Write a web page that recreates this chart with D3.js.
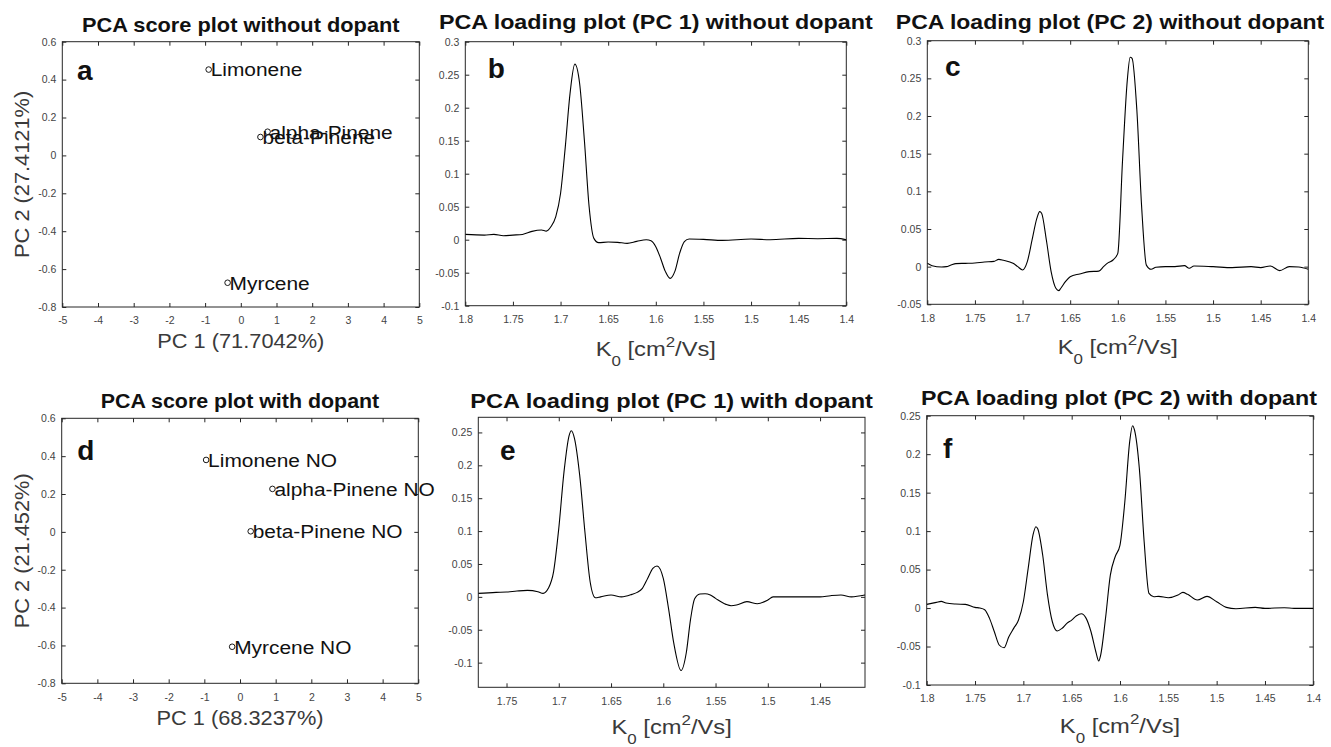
<!DOCTYPE html>
<html>
<head>
<meta charset="utf-8">
<script src="https://d3js.org/d3.v7.min.js"></script>
<style>
  body { margin: 0; background: #fff; }
  svg text { font-family: "Liberation Sans", Arial, Helvetica, sans-serif; }
  .tick text { fill: #444; font-size: 10.5px; }
  .tick line { stroke: #262626; }
</style>
</head>
<body>
<script>
// ---- score plots (PC1, PC2 per compound) ----
var namesNoDop = ["Limonene", "alpha-Pinene", "beta-Pinene", "Myrcene"];
var pc1NoDop = [-0.9, 0.75, 0.55, -0.37];
var pc2NoDop = [0.453, 0.125, 0.097, -0.672];

var namesDop = ["Limonene NO", "alpha-Pinene NO", "beta-Pinene NO", "Myrcene NO"];
var pc1Dop = [-0.95, 0.91, 0.3, -0.22];
var pc2Dop = [0.38, 0.227, 0.003, -0.607];

// ---- loading plots, [K0, loading] ----
var loadPC1NoDop = [[1.8,0.008],[1.78,0.007],[1.77,0.008],[1.76,0.006],[1.75,0.007],[1.74,0.008],[1.73,0.0126],
  [1.72,0.0146],[1.715,0.013],[1.71,0.02],[1.705,0.035],[1.7,0.07],[1.695,0.141],[1.69,0.222],[1.685,0.266],
  [1.68,0.237],[1.675,0.151],[1.67,0.05],[1.665,0.002],[1.66,-0.0045],[1.65,-0.0035],[1.64,-0.004],[1.63,-0.0055],
  [1.62,-0.0025],[1.61,0],[1.605,-0.0015],[1.6,-0.0106],[1.595,-0.028],[1.59,-0.048],[1.585,-0.0586],[1.58,-0.048],
  [1.575,-0.0207],[1.57,-0.003],[1.565,0.001],[1.55,0.0005],[1.53,-0.001],[1.5,0.001],[1.48,0],[1.45,0.002],
  [1.43,0.0015],[1.41,0.002],[1.4,0]];

var loadPC2NoDop = [[1.8,0.0044],[1.795,0.0013],[1.785,-0.0004],[1.78,0],[1.775,0.0022],[1.77,0.004],[1.76,0.0044],
  [1.75,0.0049],[1.74,0.0062],[1.73,0.007],[1.725,0.0097],[1.72,0.0084],[1.71,0.0044],[1.705,0],[1.7,-0.0044],
  [1.695,0.0066],[1.69,0.0354],[1.685,0.064],[1.682,0.073],[1.68,0.071],[1.675,0.0354],[1.67,-0.0066],
  [1.665,-0.0288],[1.662,-0.0319],[1.66,-0.029],[1.655,-0.02],[1.65,-0.0133],[1.64,-0.0097],[1.63,-0.0066],
  [1.62,-0.006],[1.615,0],[1.61,0.0053],[1.605,0.0088],[1.6,0.0177],[1.595,0.1416],[1.59,0.248],[1.587,0.278],
  [1.585,0.2765],[1.58,0.208],[1.575,0.08],[1.57,0.002],[1.565,-0.0035],[1.56,-0.0009],[1.55,0],[1.54,0],
  [1.53,0.0013],[1.525,-0.0022],[1.52,0.0009],[1.5,0],[1.48,-0.0013],[1.46,0],[1.45,-0.0013],[1.44,0.0009],
  [1.43,-0.0053],[1.42,0],[1.41,-0.0004],[1.4,-0.0035]];

var loadPC1Dop = [[1.777,0.0053],[1.76,0.0068],[1.75,0.0073],[1.74,0.0089],[1.73,0.0099],[1.72,0.0079],[1.715,0.0053],
  [1.71,0.013],[1.705,0.038],[1.7,0.104],[1.695,0.19],[1.69,0.246],[1.688,0.2525],[1.685,0.241],[1.68,0.185],
  [1.675,0.099],[1.67,0.023],[1.665,-0.0013],[1.66,0],[1.65,0.0028],[1.64,0],[1.63,0.0038],[1.625,0.0068],
  [1.62,0.013],[1.615,0.028],[1.61,0.0433],[1.606,0.047],[1.6,0.028],[1.595,-0.0175],[1.59,-0.07],[1.583,-0.112],
  [1.578,-0.085],[1.574,-0.035],[1.57,-0.003],[1.565,0.0043],[1.56,0.0048],[1.555,0.0028],[1.55,-0.0023],
  [1.54,-0.0114],[1.535,-0.0134],[1.53,-0.0124],[1.52,-0.0073],[1.51,-0.0104],[1.5,-0.0048],[1.495,0],[1.48,0],
  [1.46,0],[1.45,0],[1.44,0.0018],[1.43,0.0028],[1.42,0],[1.407,0.0028]];

var loadPC2Dop = [[1.8,0.0048],[1.79,0.0074],[1.785,0.0087],[1.78,0.0065],[1.77,0.0052],[1.76,0.0048],[1.75,0.0009],
  [1.745,0],[1.74,-0.0022],[1.735,-0.0134],[1.73,-0.0308],[1.725,-0.048],[1.72,-0.0516],[1.715,-0.0373],
  [1.71,-0.0264],[1.705,-0.0156],[1.7,0.0082],[1.695,0.0516],[1.69,0.095],[1.687,0.1057],[1.685,0.1027],
  [1.68,0.0689],[1.675,0.0169],[1.67,-0.0178],[1.665,-0.0299],[1.66,-0.0264],[1.655,-0.0199],[1.65,-0.0156],
  [1.645,-0.01],[1.64,-0.0074],[1.635,-0.0134],[1.63,-0.0308],[1.625,-0.0568],[1.622,-0.0689],[1.62,-0.0611],
  [1.615,-0.0134],[1.61,0.0429],[1.605,0.0667],[1.6,0.0819],[1.595,0.1382],[1.59,0.216],[1.587,0.237],
  [1.585,0.2314],[1.58,0.1816],[1.575,0.0862],[1.57,0.019],[1.565,0.0147],[1.56,0.0152],[1.55,0.0134],
  [1.54,0.0169],[1.535,0.0204],[1.53,0.0178],[1.52,0.0104],[1.51,0.0152],[1.5,0.0082],[1.49,0.0009],
  [1.48,-0.0009],[1.46,0.0009],[1.45,-0.0004],[1.43,0.0004],[1.42,-0.0004],[1.4,-0.0004]];

// ---- ticks ----
var scoreXTicks = [-5, -4, -3, -2, -1, 0, 1, 2, 3, 4, 5];
var scoreYTicks = [-0.8, -0.6, -0.4, -0.2, 0, 0.2, 0.4, 0.6];
var scoreYLabels = ["-0.8", "-0.6", "-0.4", "-0.2", "0", "0.2", "0.4", "0.6"];
var k0Ticks = [1.8, 1.75, 1.7, 1.65, 1.6, 1.55, 1.5, 1.45, 1.4];
var k0Labels = ["1.8", "1.75", "1.7", "1.65", "1.6", "1.55", "1.5", "1.45", "1.4"];
var k0TicksE = [1.75, 1.7, 1.65, 1.6, 1.55, 1.5, 1.45];
var k0LabelsE = ["1.75", "1.7", "1.65", "1.6", "1.55", "1.5", "1.45"];
var loadTicksB = [-0.1, -0.05, 0, 0.05, 0.1, 0.15, 0.2, 0.25, 0.3];
var loadLabelsB = ["-0.1", "-0.05", "0", "0.05", "0.1", "0.15", "0.2", "0.25", "0.3"];
var loadTicksC = [-0.05, 0, 0.05, 0.1, 0.15, 0.2, 0.25, 0.3];
var loadLabelsC = ["-0.05", "0", "0.05", "0.1", "0.15", "0.2", "0.25", "0.3"];
var loadTicksEF = [-0.1, -0.05, 0, 0.05, 0.1, 0.15, 0.2, 0.25];
var loadLabelsEF = ["-0.1", "-0.05", "0", "0.05", "0.1", "0.15", "0.2", "0.25"];

var svg = d3.select("body").append("svg")
    .attr("width", 1331)
    .attr("height", 747);

// text drawn a bit wider than Arial, like the MATLAB export
function stretchText(g, x, y, str, size, sx, rot) {
    return g.append("text")
        .attr("transform", "translate(" + x + "," + y + ")" + (rot ? " rotate(" + rot + ")" : "") + " scale(" + sx + ",1)")
        .attr("text-anchor", "middle")
        .style("font-size", size + "px")
        .text(str);
}

function k0Label(g, x, y, sx) {
    var t = g.append("text")
        .attr("transform", "translate(" + x + "," + y + ") scale(" + sx + ",1)")
        .attr("text-anchor", "middle")
        .style("font-size", "21px")
        .style("fill", "#3a3a3a");
    t.append("tspan").text("K");
    t.append("tspan").attr("dy", 10).style("font-size", "15px").text("0");
    t.append("tspan").attr("dy", -10).text(" [cm");
    t.append("tspan").attr("dy", -9).style("font-size", "15px").text("2");
    t.append("tspan").attr("dy", 9).text("/Vs]");
}

function drawPanel(p) {
    var g = svg.append("g");
    var x = d3.scaleLinear().domain(p.xDom).range([p.left, p.right]);
    var y = d3.scaleLinear().domain(p.yDom).range([p.bottom, p.top]);

    g.append("g").attr("transform", "translate(0," + p.bottom + ")")
        .call(d3.axisBottom(x).tickValues(p.xTicks).tickFormat(function(d, i) { return p.xLabels[i]; })
            .tickSize(-4).tickPadding(10));
    g.append("g").attr("transform", "translate(0," + p.top + ")")
        .call(d3.axisTop(x).tickValues(p.xTicks).tickFormat("").tickSize(-4));
    g.append("g").attr("transform", "translate(" + p.left + ",0)")
        .call(d3.axisLeft(y).tickValues(p.yTicks).tickFormat(function(d, i) { return p.yLabels[i]; })
            .tickSize(-4).tickPadding(6));
    g.append("g").attr("transform", "translate(" + p.right + ",0)")
        .call(d3.axisRight(y).tickValues(p.yTicks).tickFormat("").tickSize(-4));
    g.selectAll(".domain").remove();

    g.append("rect")
        .attr("x", p.left).attr("y", p.top)
        .attr("width", p.right - p.left).attr("height", p.bottom - p.top)
        .style("fill", "none").style("stroke", "#262626").style("stroke-width", 1);

    var titleX = p.titleX !== undefined ? p.titleX : (p.left + p.right) / 2;
    stretchText(g, titleX, p.titleY, p.title, 20, p.titleSx)
        .style("font-weight", "bold").style("fill", "#111");

    g.append("text")
        .attr("x", p.letterX).attr("y", p.letterY)
        .style("font-size", "28px").style("font-weight", "bold").style("fill", "#111")
        .text(p.letter);

    if (p.kind === "score") {
        stretchText(g, (p.left + p.right) / 2, p.xLabelY, p.xLabel, 20, 1.09).style("fill", "#3a3a3a");
        stretchText(g, 29, (p.top + p.bottom) / 2, p.yLabel, 20, 1.09, -90).style("fill", "#3a3a3a");

        var pts = p.names.map(function(n, i) { return { name: n, pc1: p.pc1[i], pc2: p.pc2[i] }; });
        g.selectAll("circle.pt").data(pts).enter().append("circle")
            .attr("class", "pt")
            .attr("cx", function(d) { return x(d.pc1); })
            .attr("cy", function(d) { return y(d.pc2); })
            .attr("r", 2.8)
            .style("fill", "none").style("stroke", "#000").style("stroke-width", 0.9);
        pts.forEach(function(d) {
            g.append("text")
                .attr("transform", "translate(" + (x(d.pc1) + 2) + "," + y(d.pc2) + ") scale(1.1,1)")
                .attr("dy", "0.36em")
                .style("font-size", "19px").style("fill", "#111")
                .text(d.name);
        });
    } else {
        k0Label(g, (p.left + p.right) / 2, p.xLabelY, 1.13);
        var clipId = "clip-" + p.letter;
        g.append("clipPath").attr("id", clipId).append("rect")
            .attr("x", p.left).attr("y", p.top)
            .attr("width", p.right - p.left).attr("height", p.bottom - p.top);
        var line = d3.line()
            .x(function(d) { return x(d[0]); })
            .y(function(d) { return y(d[1]); })
            .curve(d3.curveMonotoneX);
        g.append("path")
            .datum(p.data)
            .attr("clip-path", "url(#" + clipId + ")")
            .attr("d", line)
            .style("fill", "none").style("stroke", "#000").style("stroke-width", 1.1);
    }
}

var panels = [
    { kind: "score", letter: "a", left: 62.3, right: 419.3, top: 41.7, bottom: 307,
      xDom: [-5, 5], yDom: [-0.8, 0.6], xTicks: scoreXTicks, xLabels: scoreXTicks.map(String),
      yTicks: scoreYTicks, yLabels: scoreYLabels,
      title: "PCA score plot without dopant", titleY: 32.3, titleSx: 1.09,
      letterX: 77, letterY: 80, xLabel: "PC 1 (71.7042%)", xLabelY: 348, yLabel: "PC 2 (27.4121%)",
      names: namesNoDop, pc1: pc1NoDop, pc2: pc2NoDop },
    { kind: "load", letter: "b", left: 465.3, right: 846.3, top: 41.7, bottom: 305.7,
      xDom: [1.8, 1.4], yDom: [-0.1, 0.3], xTicks: k0Ticks, xLabels: k0Labels,
      yTicks: loadTicksB, yLabels: loadLabelsB,
      title: "PCA loading plot (PC 1) without dopant", titleY: 29.3, titleSx: 1.165,
      letterX: 487.7, letterY: 78, xLabelY: 356, data: loadPC1NoDop },
    { kind: "load", letter: "c", left: 927.3, right: 1308.3, top: 40.7, bottom: 304.3,
      xDom: [1.8, 1.4], yDom: [-0.05, 0.3], xTicks: k0Ticks, xLabels: k0Labels,
      yTicks: loadTicksC, yLabels: loadLabelsC,
      title: "PCA loading plot (PC 2) without dopant", titleY: 29.3, titleSx: 1.15, titleX: 1110,
      letterX: 945, letterY: 76, xLabelY: 354, data: loadPC2NoDop },
    { kind: "score", letter: "d", left: 61.7, right: 418.3, top: 418.3, bottom: 683.3,
      xDom: [-5, 5], yDom: [-0.8, 0.6], xTicks: scoreXTicks, xLabels: scoreXTicks.map(String),
      yTicks: scoreYTicks, yLabels: scoreYLabels,
      title: "PCA score plot with dopant", titleY: 408.3, titleSx: 1.07,
      letterX: 77.3, letterY: 460, xLabel: "PC 1 (68.3237%)", xLabelY: 725, yLabel: "PC 2 (21.452%)",
      names: namesDop, pc1: pc1Dop, pc2: pc2Dop },
    { kind: "load", letter: "e", left: 478.3, right: 865, top: 417.3, bottom: 687.3,
      xDom: [1.777, 1.407], yDom: [-0.1375, 0.273], xTicks: k0TicksE, xLabels: k0LabelsE,
      yTicks: loadTicksEF, yLabels: loadLabelsEF,
      title: "PCA loading plot (PC 1) with dopant", titleY: 407.7, titleSx: 1.18,
      letterX: 500, letterY: 460, xLabelY: 734.3, data: loadPC1Dop },
    { kind: "load", letter: "f", left: 926.7, right: 1313.3, top: 415.7, bottom: 685,
      xDom: [1.8, 1.4], yDom: [-0.1, 0.25], xTicks: k0Ticks, xLabels: k0Labels,
      yTicks: loadTicksEF, yLabels: loadLabelsEF,
      title: "PCA loading plot (PC 2) with dopant", titleY: 405, titleSx: 1.16, titleX: 1119,
      letterX: 943, letterY: 458.3, xLabelY: 733.3, data: loadPC2Dop }
];

panels.forEach(drawPanel);
</script>
</body>
</html>
